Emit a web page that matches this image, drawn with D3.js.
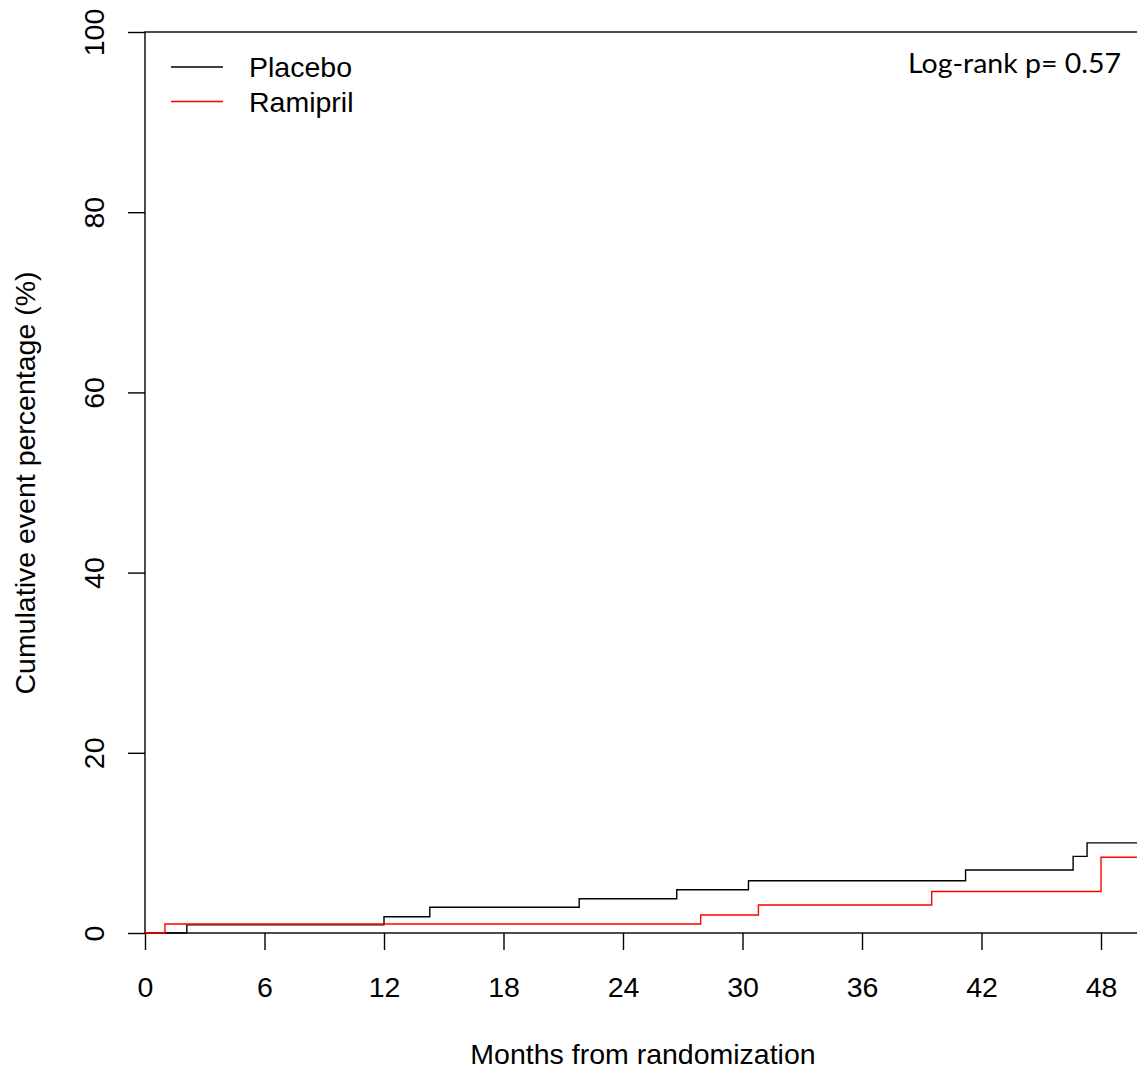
<!DOCTYPE html>
<html>
<head>
<meta charset="utf-8">
<script src="https://cdn.jsdelivr.net/npm/d3@7"></script>
<style>
  body { margin: 0; background: #fff; }
  svg { display: block; }
</style>
</head>
<body>
<svg id="chart" width="1137" height="1074"></svg>
<script>
// step data (months, cumulative %)
const placeboTimes = [0, 2.1, 12.0, 14.3, 21.8, 26.7, 30.3, 41.2, 46.6, 47.3, 50.6];
const placeboPct   = [0, 0.9, 1.8, 2.85, 3.8, 4.8, 5.8, 7.0, 8.5, 10.0, 10.0];
const ramiprilTimes = [0, 1.0, 27.9, 30.8, 39.5, 48.0, 50.6];
const ramiprilPct   = [0, 1.0, 2.0, 3.1, 4.6, 8.4, 8.4];

const xTicks = [0, 6, 12, 18, 24, 30, 36, 42, 48];
const yTicks = [0, 20, 40, 60, 80, 100];
const groups = ["Placebo", "Ramipril"];
const groupColors = ["black", "red"];
const pValueText = "Log-rank p= 0.57";

const svg = d3.select("#chart");
const font = "'Liberation Sans', Arial, Helvetica, sans-serif";
const fontSize = "28.5px";

// scales
let x = d3.scaleLinear().domain([0, 48]).range([145, 1101]);
let y = d3.scaleLinear().domain([0, 100]).range([933, 32]);

// box (right side runs off the picture)
svg.append("rect")
    .attr("x", x(0))
    .attr("y", y(100))
    .attr("width", x(50.6) - x(0) + 20)
    .attr("height", y(0) - y(100))
    .attr("fill", "none")
    .attr("stroke", "black")
    .attr("stroke-width", 1.4);

// x axis
let xAxis = svg.append("g")
    .attr("transform", "translate(0," + y(0) + ")")
    .call(d3.axisBottom(x).tickValues(xTicks).tickSize(17).tickSizeOuter(0).tickFormat(d3.format("d")));
xAxis.select(".domain").remove();
xAxis.selectAll("line").attr("stroke", "black").attr("stroke-width", 1.4);
xAxis.selectAll("text")
    .attr("y", 64)
    .attr("dy", 0)
    .attr("fill", "black")
    .style("font-family", font)
    .style("font-size", fontSize);

// y axis (labels turned, like R)
let yAxis = svg.append("g")
    .attr("transform", "translate(" + x(0) + ",0)")
    .call(d3.axisLeft(y).tickValues(yTicks).tickSize(17).tickSizeOuter(0));
yAxis.select(".domain").remove();
yAxis.selectAll("line").attr("stroke", "black").attr("stroke-width", 1.4);
yAxis.selectAll("text")
    .attr("x", null)
    .attr("dy", 0)
    .attr("text-anchor", "middle")
    .attr("transform", "translate(-41,0) rotate(-90)")
    .attr("fill", "black")
    .style("font-family", font)
    .style("font-size", fontSize);

// axis titles
svg.append("text")
    .attr("x", 643)
    .attr("y", 1064)
    .attr("text-anchor", "middle")
    .style("font-family", font)
    .style("font-size", fontSize)
    .text("Months from randomization");

svg.append("text")
    .attr("transform", "translate(35,483) rotate(-90)")
    .attr("text-anchor", "middle")
    .style("font-family", font)
    .style("font-size", fontSize)
    .text("Cumulative event percentage (%)");

// step curves
let stepLine = d3.line()
    .x(d => x(d[0]))
    .y(d => y(d[1]))
    .curve(d3.curveStepAfter);

let series = [
    d3.zip(placeboTimes, placeboPct),
    d3.zip(ramiprilTimes, ramiprilPct)
];

svg.append("g")
    .selectAll("path")
    .data(series)
    .join("path")
    .attr("d", stepLine)
    .attr("fill", "none")
    .attr("stroke", (d, i) => groupColors[i])
    .attr("stroke-width", 1.4);

// legend
let legend = svg.append("g")
    .selectAll("g")
    .data(groups)
    .join("g")
    .attr("transform", (d, i) => "translate(0," + (67 + i * 34.5) + ")");
legend.append("line")
    .attr("x1", 171)
    .attr("x2", 223)
    .attr("stroke", (d, i) => groupColors[i])
    .attr("stroke-width", 1.4);
legend.append("text")
    .attr("x", 249)
    .attr("y", 10)
    .style("font-family", font)
    .style("font-size", fontSize)
    .text(d => d);

// p value
svg.append("text")
    .attr("x", 1121)
    .attr("y", 73)
    .attr("text-anchor", "end")
    .attr("textLength", 213)
    .attr("lengthAdjust", "spacingAndGlyphs")
    .style("font-family", "Lato, 'Open Sans', sans-serif")
    .style("font-size", "27px")
    .text(pValueText);
</script>
</body>
</html>
